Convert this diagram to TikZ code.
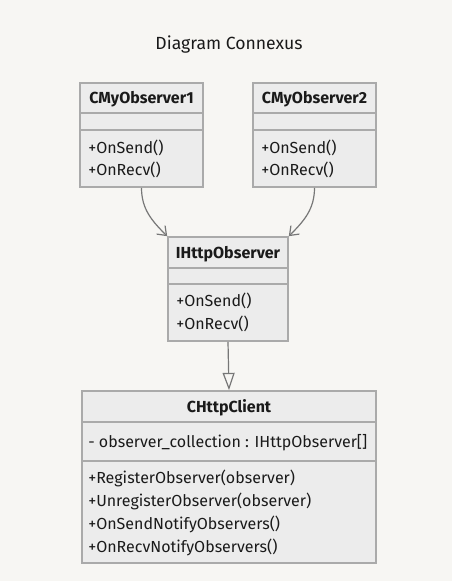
\documentclass[tikz,border=0pt]{standalone}
\usepackage{fontspec}
\setmainfont{Fira Sans}
\usetikzlibrary{fit,arrows.meta}
\definecolor{bg}{HTML}{F7F6F3}
\definecolor{boxfill}{HTML}{ECECEC}
\definecolor{boxline}{HTML}{AAAAAA}
\definecolor{conn}{HTML}{777777}
\definecolor{txt}{HTML}{1A1A1A}
\begin{document}
\begin{tikzpicture}[x=0.75pt,y=-0.75pt,
  classbox/.style={draw=boxline, fill=boxfill, line width=1.2pt, inner sep=0pt},
  sepline/.style={draw=boxline, line width=1.2pt},
  member/.style={anchor=west, inner sep=0pt, text=txt, font=\fontsize{12}{14}\selectfont},
  header/.style={inner sep=0pt, text=txt, font=\fontsize{12}{14}\selectfont\bfseries},
  assoc/.style={draw=conn, line width=0.9pt, -{Straight Barb[length=6pt,width=9pt]}},
  realize/.style={draw=conn, line width=0.9pt, -{Triangle[open,length=13pt,width=9pt,fill=bg]}}]
\fill[bg] (0,0) rectangle (452,581);
\useasboundingbox (0,0) rectangle (452,581);
\node[text=txt, font=\fontsize{13.2}{16}\selectfont] (title) at (229,45) {Diagram Connexus};
% CMyObserver1
\node[classbox, fit={(80,83) (203,187)}] (c1) {};
\draw[sepline] (80,113) -- (203,113);
\draw[sepline] (80,130) -- (203,130);
\node[header] (c1h) at (141.5,99) {CMyObserver1};
\node[member] (c1a) at (88,148) {+OnSend()};
\node[member] (c1b) at (88,170) {+OnRecv()};
% CMyObserver2
\node[classbox, fit={(253,83) (376,187)}] (c2) {};
\draw[sepline] (253,113) -- (376,113);
\draw[sepline] (253,130) -- (376,130);
\node[header] (c2h) at (314.5,99) {CMyObserver2};
\node[member] (c2a) at (261,148) {+OnSend()};
\node[member] (c2b) at (261,170) {+OnRecv()};
% IHttpObserver
\node[classbox, fit={(168,237) (288,341)}] (ih) {};
\draw[sepline] (168,268) -- (288,268);
\draw[sepline] (168,284) -- (288,284);
\node[header] (ihh) at (228,254) {IHttpObserver};
\node[member] (iha) at (176,301) {+OnSend()};
\node[member] (ihb) at (176,324) {+OnRecv()};
% CHttpClient
\node[classbox, fit={(82,391) (376,563)}] (hc) {};
\draw[sepline] (82,422) -- (376,422);
\draw[sepline] (82,461) -- (376,461);
\node[header] (hch) at (229,408) {CHttpClient};
\node[member] (hca) at (88,443) {- observer\_collection : IHttpObserver[]};
\node[member] (hcb) at (88,478) {+RegisterObserver(observer)};
\node[member] (hcc) at (88,501) {+UnregisterObserver(observer)};
\node[member] (hcd) at (88,524) {+OnSendNotifyObservers()};
\node[member] (hce) at (88,547) {+OnRecvNotifyObservers()};
% connectors
\draw[assoc] (c1.south) to[out=-90,in=135] (ih.north west);
\draw[assoc] (c2.south) to[out=-90,in=45] (ih.north east);
\draw[realize] (ih.south) -- (hc.north);
\end{tikzpicture}
\end{document}
